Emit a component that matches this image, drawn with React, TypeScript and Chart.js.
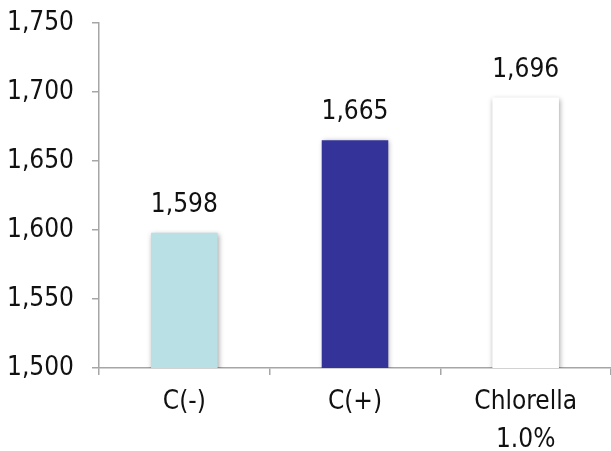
import React, { useEffect, useRef } from "react";
import { Chart, registerables } from "chart.js";

Chart.register(...registerables);

const categories: (string | string[])[] = ["C(-)", "C(+)", ["Chlorella", "1.0%"]];
const values: number[] = [1598, 1665, 1696];
const barColors: string[] = ["#b9e0e4", "#333399", "#ffffff"];
const yMin = 1500;
const yMax = 1750;
const yStep = 50;

const FONT = "'DejaVu Sans Condensed', 'Liberation Sans Narrow', sans-serif";
const FONT_SIZE = 26;

const fmt = (v: number) => v.toLocaleString("en-US");

const valueLabels = {
  id: "valueLabels",
  afterDatasetsDraw(chart: any) {
    const ctx = chart.ctx;
    const meta = chart.getDatasetMeta(0);
    ctx.save();
    ctx.font = `${FONT_SIZE}px ${FONT}`;
    ctx.fillStyle = "#111111";
    ctx.textAlign = "center";
    ctx.textBaseline = "alphabetic";
    meta.data.forEach((bar: any, i: number) => {
      ctx.fillText(fmt(values[i]), bar.x, bar.y - 21);
    });
    ctx.restore();
  },
};

const barShadow = {
  id: "barShadow",
  beforeDatasetsDraw(chart: any) {
    const ctx = chart.ctx;
    ctx.save();
    ctx.shadowColor = "rgba(0,0,0,0.35)";
    ctx.shadowBlur = 5;
    ctx.shadowOffsetX = 1;
    ctx.shadowOffsetY = 1;
  },
  afterDatasetsDraw(chart: any) {
    chart.ctx.restore();
  },
};

export default function App() {
  const ref = useRef<HTMLCanvasElement | null>(null);

  useEffect(() => {
    document.body.style.margin = "0";
    const canvas = ref.current!;
    const chart = new Chart(canvas, {
      type: "bar",
      data: {
        labels: categories,
        datasets: [
          {
            data: values,
            backgroundColor: barColors,
            borderWidth: 0,
            barPercentage: 0.39,
            categoryPercentage: 1,
          },
        ],
      },
      options: {
        animation: false,
        responsive: false,
        maintainAspectRatio: false,
        layout: { padding: { top: 23, right: 0, bottom: 0, left: 0 } },
        plugins: {
          legend: { display: false },
          tooltip: { enabled: false },
        },
        scales: {
          x: {
            offset: true,
            grid: {
              display: true,
              drawOnChartArea: false,
              offset: true,
              tickLength: 7,
              color: "#a6a6a6",
              lineWidth: 1.5,
            },
            border: { display: true, color: "#a6a6a6", width: 1.5 },
            ticks: {
              color: "#111111",
              font: { family: FONT, size: FONT_SIZE, lineHeight: 1.48 },
              padding: 8,
              maxRotation: 0,
              autoSkip: false,
            },
            afterFit: (s: any) => {
              s.height = 83;
              s.paddingLeft = 0;
              s.paddingRight = 0;
            },
          },
          y: {
            min: yMin,
            max: yMax,
            grid: {
              display: true,
              drawOnChartArea: false,
              tickLength: 7,
              color: "#a6a6a6",
              lineWidth: 1.5,
            },
            border: { display: true, color: "#a6a6a6", width: 1.5 },
            ticks: {
              stepSize: yStep,
              color: "#111111",
              font: { family: FONT, size: FONT_SIZE },
              padding: 18,
              callback: (v: any) => fmt(Number(v)),
            },
            afterFit: (s: any) => {
              s.width = 99;
              s.paddingTop = 0;
              s.paddingBottom = 0;
            },
          },
        },
      },
      plugins: [barShadow, valueLabels],
    });
    return () => chart.destroy();
  }, []);

  return (
    <div style={{ width: 611, height: 451, background: "#ffffff" }}>
      <canvas ref={ref} width={611} height={451} style={{ display: "block" }} />
    </div>
  );
}
